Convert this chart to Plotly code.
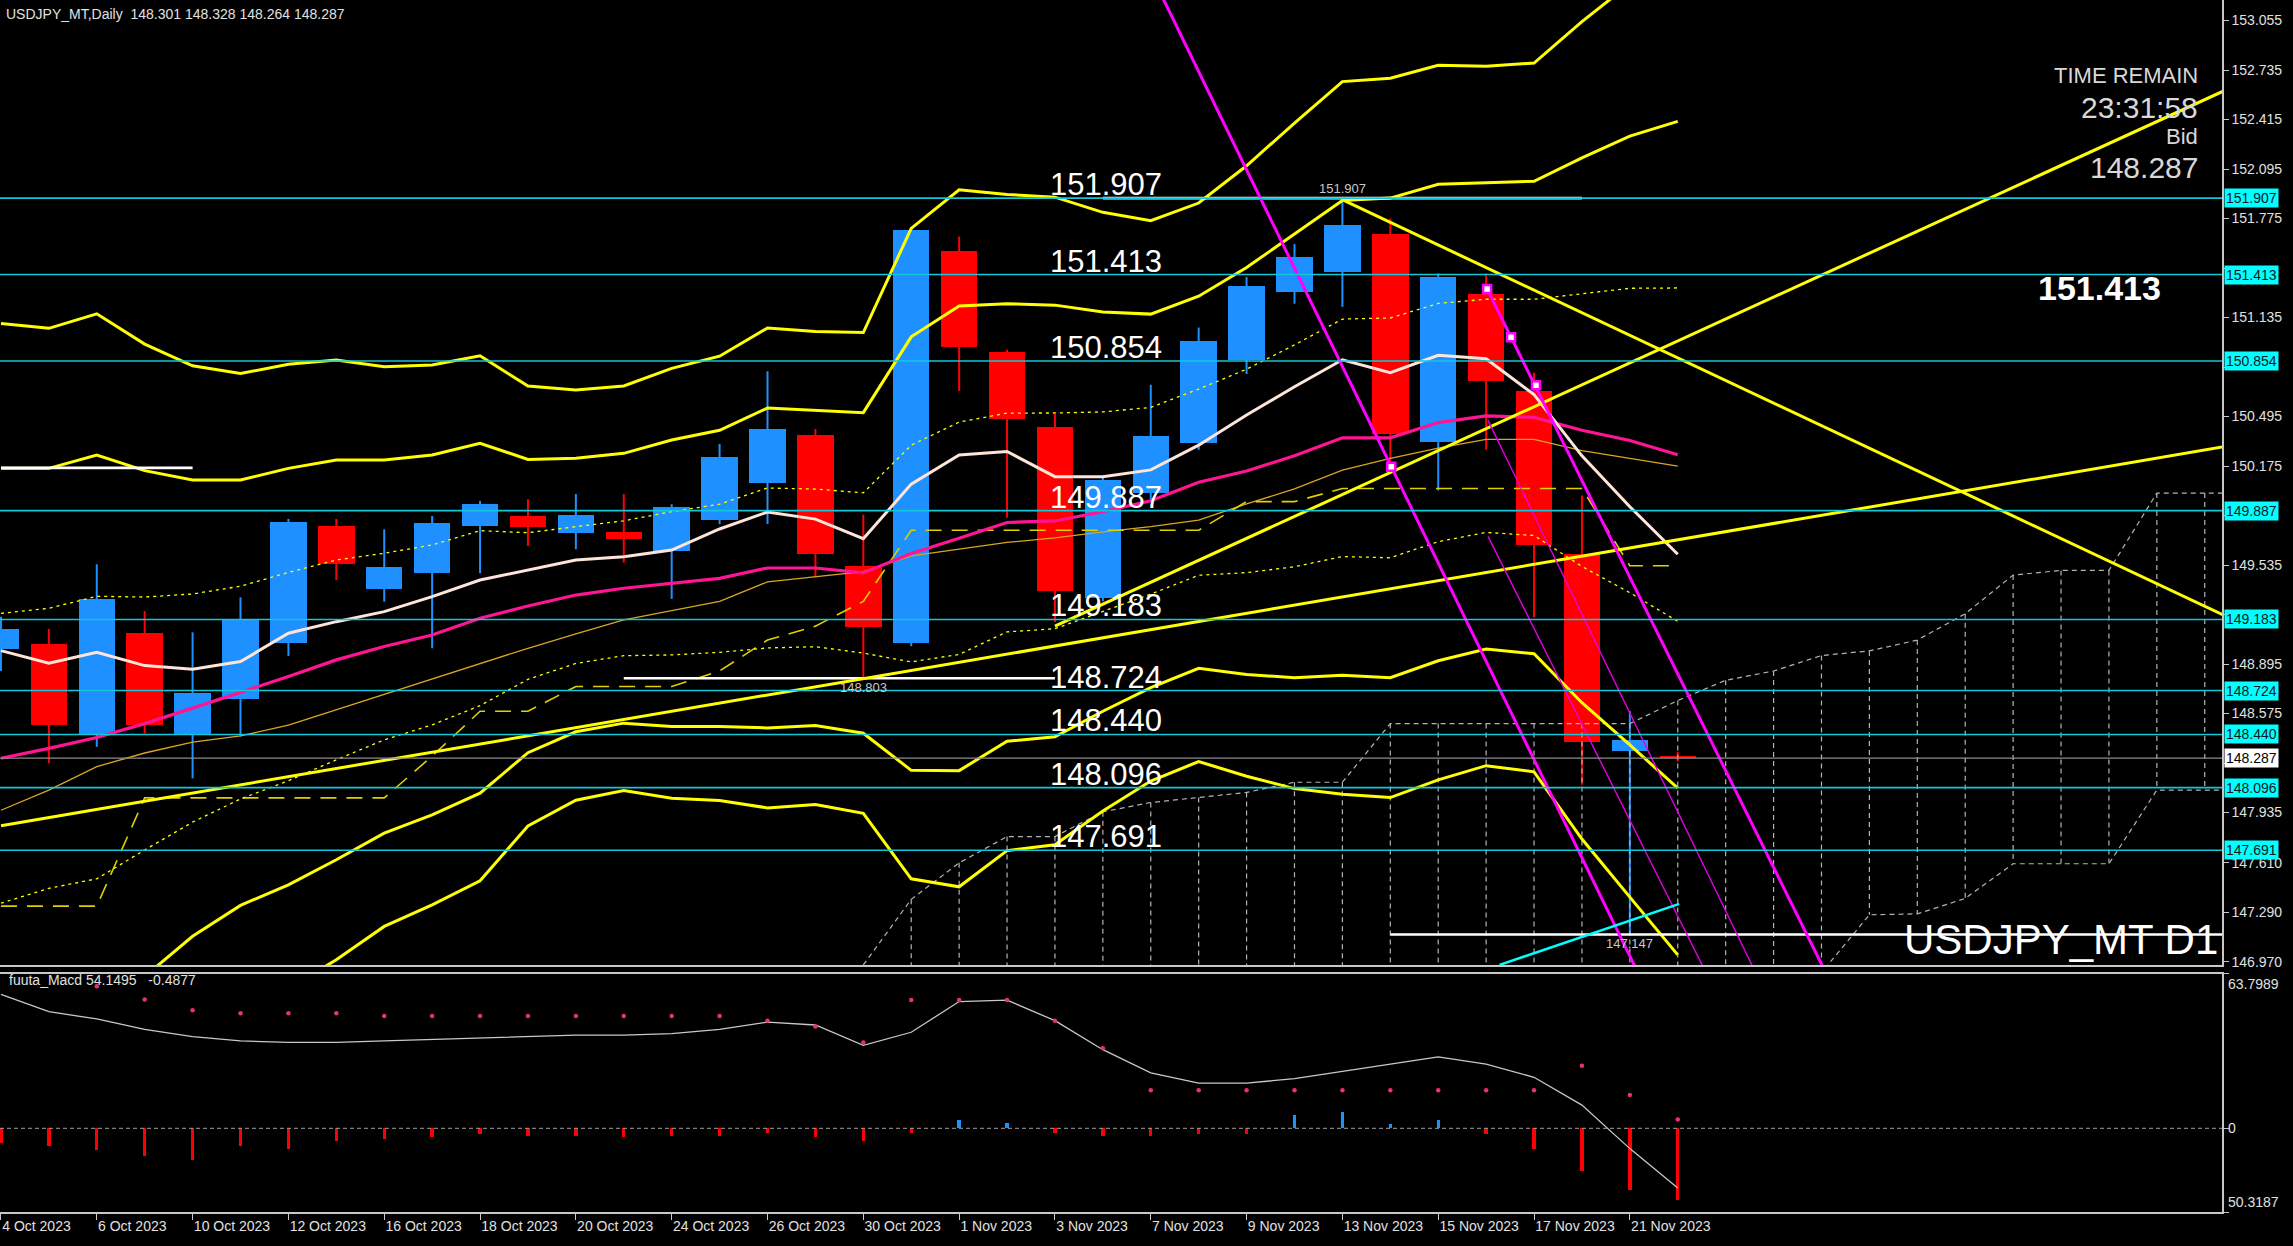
import plotly.graph_objects as go

# ---------------- data ----------------
dates = ["4 Oct 2023", "5 Oct 2023", "6 Oct 2023", "9 Oct 2023", "10 Oct 2023", "11 Oct 2023",
         "12 Oct 2023", "13 Oct 2023", "16 Oct 2023", "17 Oct 2023", "18 Oct 2023", "19 Oct 2023",
         "20 Oct 2023", "23 Oct 2023", "24 Oct 2023", "25 Oct 2023", "26 Oct 2023", "27 Oct 2023",
         "30 Oct 2023", "31 Oct 2023", "1 Nov 2023", "2 Nov 2023", "3 Nov 2023", "6 Nov 2023",
         "7 Nov 2023", "8 Nov 2023", "9 Nov 2023", "10 Nov 2023", "13 Nov 2023", "14 Nov 2023",
         "15 Nov 2023", "16 Nov 2023", "17 Nov 2023", "20 Nov 2023", "21 Nov 2023", "22 Nov 2023"]

opens = [148.99, 149.025, 148.441, 149.094, 148.441, 148.669, 149.029, 149.79, 149.378, 149.482,
         149.79, 149.852, 149.744, 149.751, 149.628, 149.826, 150.064, 150.376, 149.531, 149.03,
         151.563, 150.912, 150.426, 149.32, 150.0, 150.324, 150.858, 151.303, 151.429, 151.676,
         150.33, 151.287, 150.66, 149.605, 148.335, 148.301]
highs = [149.20, 149.122, 149.54, 149.238, 149.10, 149.326, 149.833, 149.833, 149.766, 149.852,
         149.949, 149.96, 149.994, 149.994, 149.928, 150.318, 150.788, 150.414, 149.861, 151.72,
         151.658, 150.927, 150.513, 150.10, 150.70, 151.07, 151.396, 151.61, 151.907, 151.775,
         151.42, 151.42, 150.779, 149.984, 148.592, 148.328]
lows = [148.85, 148.253, 148.36, 148.447, 148.156, 148.426, 148.947, 149.438, 149.298, 148.997,
        149.482, 149.658, 149.637, 149.55, 149.316, 149.80, 149.80, 149.456, 148.803, 149.01,
        150.661, 149.841, 149.167, 149.30, 149.95, 150.28, 150.77, 151.224, 151.204, 150.202,
        150.017, 150.281, 149.196, 148.114, 147.147, 148.264]
closes = [149.12, 148.501, 149.316, 148.501, 148.706, 149.186, 149.811, 149.542, 149.52, 149.809,
          149.928, 149.783, 149.859, 149.703, 149.908, 150.232, 150.414, 149.609, 149.137, 151.699,
          150.947, 150.478, 149.369, 150.087, 150.37, 150.984, 151.34, 151.528, 151.732, 150.383,
          151.396, 150.726, 149.664, 148.394, 148.404, 148.287]

ma_fast = [148.982, 148.90, 148.971, 148.885, 148.861, 148.911, 149.094, 149.169, 149.234, 149.331,
           149.438, 149.503, 149.568, 149.589, 149.632, 149.768, 149.878, 149.832, 149.705, 150.058,
           150.246, 150.269, 150.106, 150.106, 150.15, 150.31, 150.505, 150.687, 150.862, 150.779,
           150.891, 150.868, 150.637, 150.241, 149.912, 149.605]
bb_mid = [148.286, 148.35, 148.42, 148.51, 148.61, 148.71, 148.814, 148.922, 149.008, 149.083,
          149.191, 149.27, 149.341, 149.385, 149.417, 149.449, 149.516, 149.516, 149.484, 149.609,
          149.708, 149.81, 149.82, 149.88, 149.95, 150.07, 150.143, 150.241, 150.357, 150.357,
          150.456, 150.499, 150.489, 150.406, 150.34, 150.248]
bb_up1 = [149.223, 149.255, 149.333, 149.328, 149.348, 149.398, 149.487, 149.568, 149.611, 149.665,
          149.757, 149.744, 149.783, 149.821, 149.88, 149.928, 150.033, 150.026, 150.002, 150.31,
          150.459, 150.517, 150.518, 150.525, 150.554, 150.672, 150.801, 150.958, 151.125, 151.132,
          151.226, 151.253, 151.253, 151.287, 151.324, 151.326]
bb_up2 = [150.16, 150.16, 150.246, 150.145, 150.085, 150.085, 150.16, 150.214, 150.214, 150.246,
          150.322, 150.218, 150.225, 150.257, 150.343, 150.406, 150.55, 150.535, 150.52, 151.01,
          151.21, 151.224, 151.215, 151.17, 151.157, 151.273, 151.458, 151.675, 151.892, 151.907,
          151.996, 152.006, 152.016, 152.167, 152.308, 152.403]
bb_up3 = [151.097, 151.065, 151.159, 150.963, 150.823, 150.773, 150.833, 150.86, 150.817, 150.828,
          150.888, 150.692, 150.667, 150.693, 150.806, 150.885, 151.067, 151.045, 151.038, 151.711,
          151.961, 151.931, 151.913, 151.815, 151.761, 151.875, 152.116, 152.392, 152.66, 152.682,
          152.766, 152.76, 152.78, 153.048, 153.292, 153.481]
bb_dn1 = [147.349, 147.445, 147.507, 147.693, 147.873, 148.023, 148.141, 148.276, 148.405, 148.502,
          148.626, 148.796, 148.899, 148.949, 148.954, 148.971, 148.999, 149.007, 148.966, 148.909,
          148.957, 149.103, 149.123, 149.235, 149.347, 149.469, 149.486, 149.524, 149.59, 149.582,
          149.686, 149.746, 149.726, 149.526, 149.356, 149.171]
bb_dn2 = [146.412, 146.54, 146.594, 146.875, 147.135, 147.335, 147.468, 147.63, 147.802, 147.92,
          148.06, 148.322, 148.457, 148.513, 148.491, 148.492, 148.482, 148.497, 148.448, 148.208,
          148.206, 148.396, 148.425, 148.59, 148.743, 148.867, 148.828, 148.807, 148.822, 148.807,
          148.916, 148.992, 148.962, 148.645, 148.372, 148.093]
bb_dn3 = [145.475, 145.635, 145.681, 146.057, 146.397, 146.647, 146.795, 146.984, 147.199, 147.338,
          147.494, 147.848, 148.015, 148.077, 148.028, 148.013, 147.965, 147.987, 147.93, 147.507,
          147.455, 147.689, 147.727, 147.945, 148.139, 148.265, 148.17, 148.09, 148.054, 148.032,
          148.146, 148.238, 148.198, 147.764, 147.388, 147.015]
ma_slow = [147.95, 148.08, 148.232, 148.32, 148.39, 148.43, 148.50, 148.60, 148.70, 148.80,
           148.90, 148.997, 149.09, 149.18, 149.24, 149.30, 149.426, 149.46, 149.492, 149.594,
           149.638, 149.681, 149.71, 149.75, 149.783, 149.826, 149.93, 150.027, 150.149, 150.225,
           150.291, 150.347, 150.347, 150.274, 150.225, 150.175]
kijun = [147.33, 147.33, 147.33, 148.03, 148.03, 148.03, 148.03, 148.03, 148.03, 148.30,
         148.59, 148.59, 148.75, 148.75, 148.75, 148.85, 149.05, 149.14, 149.30, 149.76,
         149.76, 149.76, 149.76, 149.76, 149.76, 149.76, 149.945, 149.945, 150.03, 150.03,
         150.03, 150.03, 150.03, 150.03, 149.53, 149.53]

span_x = list(range(18, 48))
span_a = [146.95, 147.374, 147.61, 147.78, 147.78, 147.94, 148.0, 148.032, 148.065, 148.131,
          148.131, 148.51, 148.51, 148.51, 148.51, 148.51, 148.51, 148.659, 148.79, 148.85,
          148.95, 148.98, 149.05, 149.22, 149.47, 149.5, 149.5, 150.0, 150.0, 150.0]
span_b = [146.3, 146.3, 146.35, 146.4, 146.4, 146.45, 146.5, 146.5, 146.5, 146.5,
          146.55, 146.6, 146.6, 146.6, 146.6, 146.65, 146.7, 146.7, 146.75, 146.8,
          146.9, 147.274, 147.28, 147.38, 147.604, 147.604, 147.604, 148.08, 148.08, 148.08]

levels = [151.907, 151.413, 150.854, 149.887, 149.183, 148.724, 148.440, 148.096, 147.691]
level_text = ["151.907", "151.413", "150.854", "149.887", "149.183", "148.724", "148.440", "148.096", "147.691"]
bid_price = 148.287

price_ticks = [153.055, 152.735, 152.415, 152.095, 151.775, 151.455, 151.135, 150.815, 150.495,
               150.175, 149.855, 149.535, 149.215, 148.895, 148.575, 148.255, 147.935, 147.610,
               147.290, 146.970]
hidden_ticks = [151.455, 150.815, 149.855, 149.215, 148.255]   # covered by the level boxes

# trend lines: (bar, price) pairs
yellow_trends = [[(22.0, 149.14), (46.4, 152.60)],
                 [(0.0, 147.85), (46.4, 150.30)],
                 [(28.04, 151.89), (46.4, 149.21)]]
magenta_thick = [[(24.0, 153.36), (34.2, 146.88)],
                 [(31.02, 151.32), (38.2, 146.83)]]
magenta_thin = [[(31.04, 149.72), (36.0, 146.645)],
                [(31.04, 150.47), (37.0, 146.66)]]
cyan_trend = [(31.28, 146.95), (35.03, 147.345)]
anchor_x = [29.02, 31.02, 31.52, 32.04]
anchor_y = [150.17, 151.32, 151.007, 150.697]
white_segments = [[(0.0, 150.163), (4.0, 150.163)],
                  [(13.0, 148.803), (22.0, 148.803)],
                  [(23.0, 151.907), (33.0, 151.907)],
                  [(29.0, 147.147), (46.4, 147.147)]]
point_labels = [(18, 148.803, "148.803", "top"), (28, 151.907, "151.907", "bottom"),
                (34, 147.147, "147.147", "top")]

macd_line = [55.4, 48.2, 45.2, 40.9, 37.9, 36.1, 35.5, 35.5, 36.1, 36.7,
             37.3, 37.9, 38.5, 38.5, 39.1, 40.9, 43.9, 42.7, 34.3, 39.7,
             52.4, 53.0, 44.5, 32.5, 22.9, 18.7, 18.7, 20.5, 23.5, 26.5,
             29.5, 26.5, 21.1, 9.6, -8.4, -24.7]
signal_x = list(range(2, 36))
macd_signal = [58.7, 53.2, 48.8, 47.6, 47.6, 47.6, 46.4, 46.4, 46.4, 46.4,
               46.4, 46.4, 46.4, 46.4, 44.5, 42.1, 35.5, 53.0, 53.0, 53.0,
               44.5, 33.1, 15.7, 15.7, 15.7, 15.7, 15.7, 15.7, 15.7, 15.7,
               15.7, 25.9, 13.8, 3.6]
macd_hist = [-6.0, -7.2, -9.0, -11.4, -13.2, -7.2, -8.4, -5.4, -4.2, -3.6,
             -2.4, -3.0, -3.0, -3.6, -3.0, -3.0, -1.8, -3.6, -5.4, -1.8,
             3.6, 2.4, -1.8, -3.0, -3.0, -2.4, -2.4, 5.4, 6.6, 1.8,
             3.6, -2.4, -8.4, -17.5, -25.3, -29.5]

# ---------------- figure ----------------
BULL = "#1E90FF"
BEAR = "#FF0000"
YEL = "#FFFF00"
FONT = "Liberation Sans, Arial, sans-serif"
n = len(dates)
idx = list(range(n))

fig = go.Figure()

# candles
for bull in (True, False):
    sel = [i for i in idx if (closes[i] >= opens[i]) == bull]
    col = BULL if bull else BEAR
    wx, wy = [], []
    for i in sel:
        wx += [i, i, None]
        wy += [lows[i], highs[i], None]
    fig.add_trace(go.Scatter(x=wx, y=wy, mode="lines", line=dict(color=col, width=2),
                             xaxis="x", yaxis="y", hoverinfo="skip"))
    fig.add_trace(go.Bar(x=sel,
                         y=[max(abs(closes[i] - opens[i]), 0.012) for i in sel],
                         base=[min(opens[i], closes[i]) for i in sel],
                         width=0.76, marker=dict(color=col, line=dict(width=0)),
                         xaxis="x", yaxis="y", hoverinfo="skip"))

# ichimoku cloud (gray dashed)
hx, hy = [], []
for k, xv in enumerate(span_x):
    hx += [xv, xv, None]
    hy += [span_a[k], span_b[k], None]
fig.add_trace(go.Scatter(x=hx, y=hy, mode="lines", line=dict(color="#B4B4B4", width=1.2, dash="5px,4px"),
                         xaxis="x", yaxis="y", hoverinfo="skip"))
for sp in (span_a, span_b):
    fig.add_trace(go.Scatter(x=span_x, y=sp, mode="lines", line=dict(color="#B4B4B4", width=1.2, dash="5px,4px"),
                             xaxis="x", yaxis="y", hoverinfo="skip"))

# moving averages / bands
def line(y, color, width, dash="solid", x=None):
    fig.add_trace(go.Scatter(x=idx if x is None else x, y=y, mode="lines",
                             line=dict(color=color, width=width, dash=dash),
                             xaxis="x", yaxis="y", hoverinfo="skip"))

line(ma_slow, "#DAA520", 1.3)
line(kijun, "#E0D000", 1.6, "16px,10px")
line(bb_up1, YEL, 1.3, "3px,4px")
line(bb_dn1, YEL, 1.3, "3px,4px")
line(bb_up2, YEL, 3)
line(bb_dn2, YEL, 3)
line(bb_up3, YEL, 3)
line(bb_dn3, YEL, 3)
line(bb_mid, "#FF1493", 3.2)
line(ma_fast, "#FFE4DA", 3)

# drawn objects
for seg in white_segments:
    fig.add_trace(go.Scatter(x=[p[0] for p in seg], y=[p[1] for p in seg], mode="lines",
                             line=dict(color="#FFFFFF", width=2.6), xaxis="x", yaxis="y", hoverinfo="skip"))
for seg in yellow_trends:
    fig.add_trace(go.Scatter(x=[p[0] for p in seg], y=[p[1] for p in seg], mode="lines",
                             line=dict(color=YEL, width=3), xaxis="x", yaxis="y", hoverinfo="skip"))
for seg in magenta_thick:
    fig.add_trace(go.Scatter(x=[p[0] for p in seg], y=[p[1] for p in seg], mode="lines",
                             line=dict(color="#FF00FF", width=3), xaxis="x", yaxis="y", hoverinfo="skip"))
for seg in magenta_thin:
    fig.add_trace(go.Scatter(x=[p[0] for p in seg], y=[p[1] for p in seg], mode="lines",
                             line=dict(color="#E000E0", width=1.4), xaxis="x", yaxis="y", hoverinfo="skip"))
fig.add_trace(go.Scatter(x=[p[0] for p in cyan_trend], y=[p[1] for p in cyan_trend], mode="lines",
                         line=dict(color="#00FFFF", width=2.5), xaxis="x", yaxis="y", hoverinfo="skip"))
fig.add_trace(go.Scatter(x=anchor_x, y=anchor_y, mode="markers",
                         marker=dict(symbol="square", size=8, color="#FFFFFF", line=dict(color="#FF00FF", width=2.5)),
                         xaxis="x", yaxis="y", hoverinfo="skip"))

# MACD pane
fig.add_trace(go.Bar(x=idx, y=macd_hist, width=0.07,
                     marker=dict(color=[BULL if v > 0 else BEAR for v in macd_hist], line=dict(width=0)),
                     xaxis="x2", yaxis="y2", hoverinfo="skip"))
fig.add_trace(go.Scatter(x=idx, y=macd_line, mode="lines", line=dict(color="#C8C8C8", width=1.3),
                         xaxis="x2", yaxis="y2", hoverinfo="skip"))
fig.add_trace(go.Scatter(x=signal_x, y=macd_signal, mode="markers",
                         marker=dict(color="#E8307A", size=4.5), xaxis="x2", yaxis="y2", hoverinfo="skip"))

shapes = []
for lv in levels:
    shapes.append(dict(type="line", xref="paper", x0=0, x1=1, yref="y", y0=lv, y1=lv,
                       line=dict(color="#10C8D8", width=1.6)))
shapes.append(dict(type="line", xref="paper", x0=0, x1=1, yref="y", y0=bid_price, y1=bid_price,
                   line=dict(color="#8C8C8C", width=1.2)))
shapes.append(dict(type="line", xref="paper", x0=0, x1=1, yref="y2", y0=0, y1=0,
                   line=dict(color="#A0A0A0", width=1, dash="4px,3px")))

ann = []
for lv, tx in zip(levels, level_text):
    ann.append(dict(x=21.86, y=lv, xref="x", yref="y", text=tx, showarrow=False, xanchor="left",
                    yanchor="bottom", yshift=-6, font=dict(family=FONT, size=31, color="#FFFFFF")))
    ann.append(dict(x=1, y=lv, xref="paper", yref="y", text=tx, showarrow=False, xanchor="left",
                    yanchor="middle", xshift=2, bgcolor="#00FFFF", borderpad=1,
                    font=dict(family=FONT, size=14, color="#101820")))
ann.append(dict(x=1, y=bid_price, xref="paper", yref="y", text=f"{bid_price:.3f}", showarrow=False,
                xanchor="left", yanchor="middle", xshift=2, bgcolor="#FFFFFF", borderpad=1,
                font=dict(family=FONT, size=14, color="#000000")))
for bx, py, tx, pos in point_labels:
    ann.append(dict(x=bx, y=py, xref="x", yref="y", text=tx, showarrow=False, xanchor="center",
                    yanchor=pos, font=dict(family=FONT, size=13, color="#C8C8C8")))

ann += [
    dict(x=0.002, y=0.9886, xref="paper", yref="paper", text="USDJPY_MT,Daily  148.301 148.328 148.264 148.287",
         showarrow=False, xanchor="left", yanchor="middle", font=dict(family=FONT, size=14, color="#E0E0E0")),
    dict(x=0.9901, y=0.9373, xref="paper", yref="paper", text="TIME REMAIN", showarrow=False,
         xanchor="right", yanchor="middle", font=dict(family=FONT, size=22, color="#D8D8D8")),
    dict(x=0.9901, y=0.9109, xref="paper", yref="paper", text="23:31:58", showarrow=False,
         xanchor="right", yanchor="middle", font=dict(family=FONT, size=30, color="#D8D8D8")),
    dict(x=0.9901, y=0.887, xref="paper", yref="paper", text="Bid", showarrow=False,
         xanchor="right", yanchor="middle", font=dict(family=FONT, size=22, color="#D8D8D8")),
    dict(x=0.9901, y=0.8622, xref="paper", yref="paper", text="148.287", showarrow=False,
         xanchor="right", yanchor="middle", font=dict(family=FONT, size=30, color="#D8D8D8")),
    dict(x=0.945, y=0.7624, xref="paper", yref="paper", text="<b>151.413</b>", showarrow=False,
         xanchor="center", yanchor="middle", font=dict(family=FONT, size=34, color="#FFFFFF")),
    dict(x=0.9991, y=0.2252, xref="paper", yref="paper", text="USDJPY_MT D1", showarrow=False,
         xanchor="right", yanchor="middle", font=dict(family=FONT, size=42, color="#FFFFFF")),
    dict(x=0.003, y=0.1914, xref="paper", yref="paper", text="fuuta_Macd 54.1495   -0.4877",
         showarrow=False, xanchor="left", yanchor="middle", font=dict(family=FONT, size=14, color="#E0E0E0")),
    dict(x=1, y=63.8, xref="paper", yref="y2", text="63.7989", showarrow=False, xanchor="left",
         yanchor="top", xshift=4, font=dict(family=FONT, size=14, color="#E0E0E0")),
    dict(x=1, y=0, xref="paper", yref="y2", text="0", showarrow=False, xanchor="left",
         yanchor="middle", xshift=4, font=dict(family=FONT, size=14, color="#E0E0E0")),
    dict(x=1, y=-34.6, xref="paper", yref="y2", text="50.3187", showarrow=False, xanchor="left",
         yanchor="bottom", xshift=4, font=dict(family=FONT, size=14, color="#E0E0E0")),
]

tick_idx = idx[::2]
tick_txt = [dates[i] for i in tick_idx]
AX = "#C8C8C8"

fig.update_layout(
    width=2293, height=1246,
    margin=dict(l=0, r=71, t=0, b=34, autoexpand=False),
    paper_bgcolor="#000000", plot_bgcolor="#000000",
    showlegend=False, barmode="overlay", bargap=0,
    shapes=shapes, annotations=ann,
    xaxis=dict(domain=[0, 1], anchor="y", range=[-0.02, 46.36], showticklabels=False, ticks="",
               showgrid=False, zeroline=False, showline=True, linecolor=AX, linewidth=1.5, mirror=True),
    yaxis=dict(domain=[0.2038, 1], anchor="x", side="right", range=[146.9496, 153.1875],
               tickvals=price_ticks,
               ticktext=["" if v in hidden_ticks else f"{v:.3f}" for v in price_ticks],
               ticks="outside", ticklen=5, tickcolor=AX, showgrid=False, zeroline=False,
               showline=True, linecolor=AX, linewidth=1.5,
               tickfont=dict(family=FONT, size=14, color="#E0E0E0")),
    xaxis2=dict(domain=[0, 1], anchor="y2", range=[-0.02, 46.36], tickvals=tick_idx, ticktext=tick_txt,
                ticks="outside", ticklen=6, tickcolor=AX, ticklabelposition="outside right",
                showgrid=False, zeroline=False, showline=True, linecolor=AX, linewidth=1.5, mirror=True,
                tickfont=dict(family=FONT, size=14, color="#E0E0E0")),
    yaxis2=dict(domain=[0, 0.1964], anchor="x2", side="right", range=[-34.6, 63.8],
                tickvals=[63.8, 0, -34.6], showticklabels=False, ticks="outside", ticklen=5, tickcolor=AX,
                showgrid=False, zeroline=False, showline=True, linecolor=AX, linewidth=1.5),
)

fig.write_html("out.html", config=dict(displayModeBar=False),
               post_script="document.body.style.margin='0';document.body.style.padding='0';"
                           "document.body.style.background='#000';document.body.style.overflow='hidden';")
